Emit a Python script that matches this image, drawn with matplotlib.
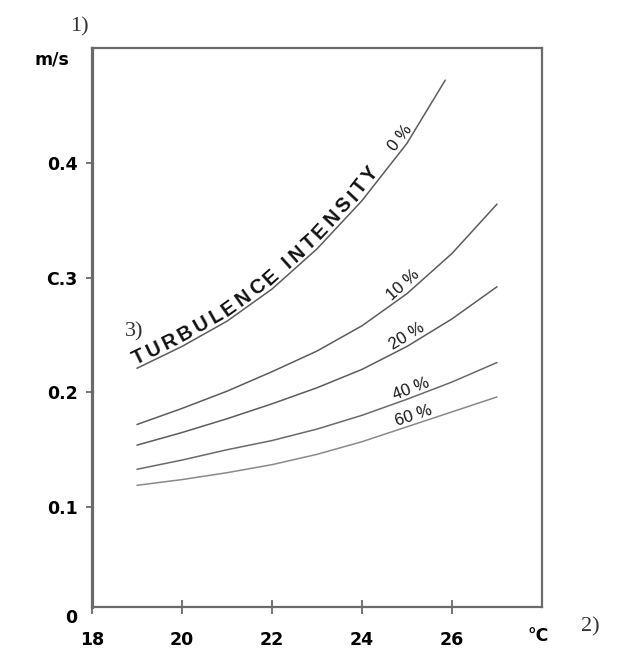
import numpy as np
import matplotlib
matplotlib.use("Agg")
import matplotlib.pyplot as plt
from matplotlib.font_manager import FontProperties

# ---- data ----
temps = [19, 20, 21, 22, 23, 24, 25, 26, 27]
temps_0 = [19, 20, 21, 22, 23, 24, 25, 25.85]
v_0 = [0.221, 0.240, 0.262, 0.290, 0.325, 0.367, 0.417, 0.472]
v_10 = [0.172, 0.186, 0.201, 0.218, 0.236, 0.258, 0.286, 0.321, 0.364]
v_20 = [0.154, 0.165, 0.177, 0.190, 0.204, 0.220, 0.240, 0.264, 0.292]
v_40 = [0.133, 0.141, 0.150, 0.158, 0.168, 0.180, 0.194, 0.209, 0.226]
v_60 = [0.119, 0.124, 0.130, 0.137, 0.146, 0.157, 0.170, 0.183, 0.196]
curve_labels = ["0 %", "10 %", "20 %", "40 %", "60 %"]
title_text = "TURBULENCE INTENSITY"

xticks = [18, 20, 22, 24, 26]
xtick_labels = ["18", "20", "22", "24", "26"]
yticks = [0.1, 0.2, 0.3, 0.4]
ytick_labels = ["0.1", "0.2", "C.3", "0.4"]

W, H = 623, 656
fig = plt.figure(figsize=(W / 100, H / 100), dpi=100)
ax = fig.add_axes([92 / W, 1 - 607 / H, 450 / W, 559 / H])
ax.set_xlim(18, 28)
ax.set_ylim(0.013, 0.5)

spine_c = '#6a6a6a'
for s in ax.spines.values():
    s.set_color(spine_c)
    s.set_linewidth(1.6)
ax.spines['left'].set_linewidth(2.3)

bold = dict(family='DejaVu Sans', fontweight='bold', fontsize=12.5)
ax.set_xticks(xticks)
ax.set_xticklabels(xtick_labels, **bold)
ax.set_yticks(yticks)
ax.set_yticklabels(ytick_labels, **bold)
ax.tick_params(axis='x', direction='inout', length=10, width=1.3,
               color=spine_c, pad=12)
ax.tick_params(axis='y', direction='out', length=4.5, width=1.3,
               color=spine_c, pad=6)

line_c = '#5c5c5c'
series = [(temps_0, v_0), (temps, v_10), (temps, v_20), (temps, v_40), (temps, v_60)]
colors = [line_c, line_c, line_c, '#6a6a6a', '#8a8a8a']
for (xs, ys), c in zip(series, colors):
    ax.plot(xs, ys, color=c, lw=1.1, solid_capstyle='round')

renderer = fig.canvas.get_renderer()


def curve_geom(xs, ys):
    pts = ax.transData.transform(np.column_stack([xs, ys]))
    seg = np.hypot(np.diff(pts[:, 0]), np.diff(pts[:, 1]))
    arc = np.concatenate([[0], np.cumsum(seg)])
    return pts, arc


def point_at(pts, arc, s):
    i = int(np.clip(np.searchsorted(arc, s) - 1, 0, len(arc) - 2))
    t = (s - arc[i]) / (arc[i + 1] - arc[i])
    p = pts[i] + t * (pts[i + 1] - pts[i])
    d = pts[i + 1] - pts[i]
    ang = np.degrees(np.arctan2(d[1], d[0]))
    return p, ang


def text_along(xs, ys, text, x_start, x_end, offset_px, fp, color):
    pts, arc = curve_geom(xs, ys)
    s0 = np.interp(x_start, xs, arc)
    s1 = np.interp(x_end, xs, arc)
    widths = [renderer.get_text_width_height_descent(ch, fp, ismath=False)[0]
              for ch in text]
    track = (s1 - s0 - sum(widths)) / (len(text) - 1)
    s = s0
    inv = ax.transData.inverted()
    for ch, w in zip(text, widths):
        p, ang = point_at(pts, arc, s + w / 2)
        nrm = np.array([-np.sin(np.radians(ang)), np.cos(np.radians(ang))])
        q = inv.transform(p + offset_px * nrm)
        ax.text(q[0], q[1], ch, fontproperties=fp, color=color,
                rotation=ang, rotation_mode='anchor',
                ha='center', va='baseline')
        s += w + track


fp_title = FontProperties(family='Liberation Sans', size=14.5, weight='bold')
text_along(temps_0, v_0, title_text, 19.0, 24.45, 4, fp_title, '#111111')


def label_on(xs, ys, text, x_at, offset_px, size=12):
    pts, arc = curve_geom(xs, ys)
    s = np.interp(x_at, xs, arc)
    p, ang = point_at(pts, arc, s)
    nrm = np.array([-np.sin(np.radians(ang)), np.cos(np.radians(ang))])
    q = ax.transData.inverted().transform(p + offset_px * nrm)
    ax.text(q[0], q[1], text, family='Liberation Sans', fontsize=size,
            color='#151515', rotation=ang, rotation_mode='anchor',
            ha='center', va='baseline')


label_on(temps_0, v_0, curve_labels[0], 25.0, 4, 12)
label_on(temps, v_10, curve_labels[1], 25.05, 4)
label_on(temps, v_20, curve_labels[2], 25.1, 4)
label_on(temps, v_40, curve_labels[3], 25.15, 4)
label_on(temps, v_60, curve_labels[4], 25.2, 4)

# extra annotations
fig.text(52 / W, 1 - 60 / H, "m/s", ha='center', va='center', **bold)
fig.text(71 / W, 1 - 618 / H, "0", ha='center', va='center', **bold)
fig.text(538 / W, 1 - 636 / H, "°C", ha='center', va='center', **bold)
serif = dict(family='Liberation Serif', fontsize=16, color='#333333')
fig.text(79 / W, 1 - 27 / H, "1)", ha='center', va='center', **serif)
fig.text(590 / W, 1 - 627 / H, "2)", ha='center', va='center', **serif)
fig.text(134 / W, 1 - 332 / H, "3)", ha='center', va='center', **serif)

fig.savefig("out.png", dpi=100)
